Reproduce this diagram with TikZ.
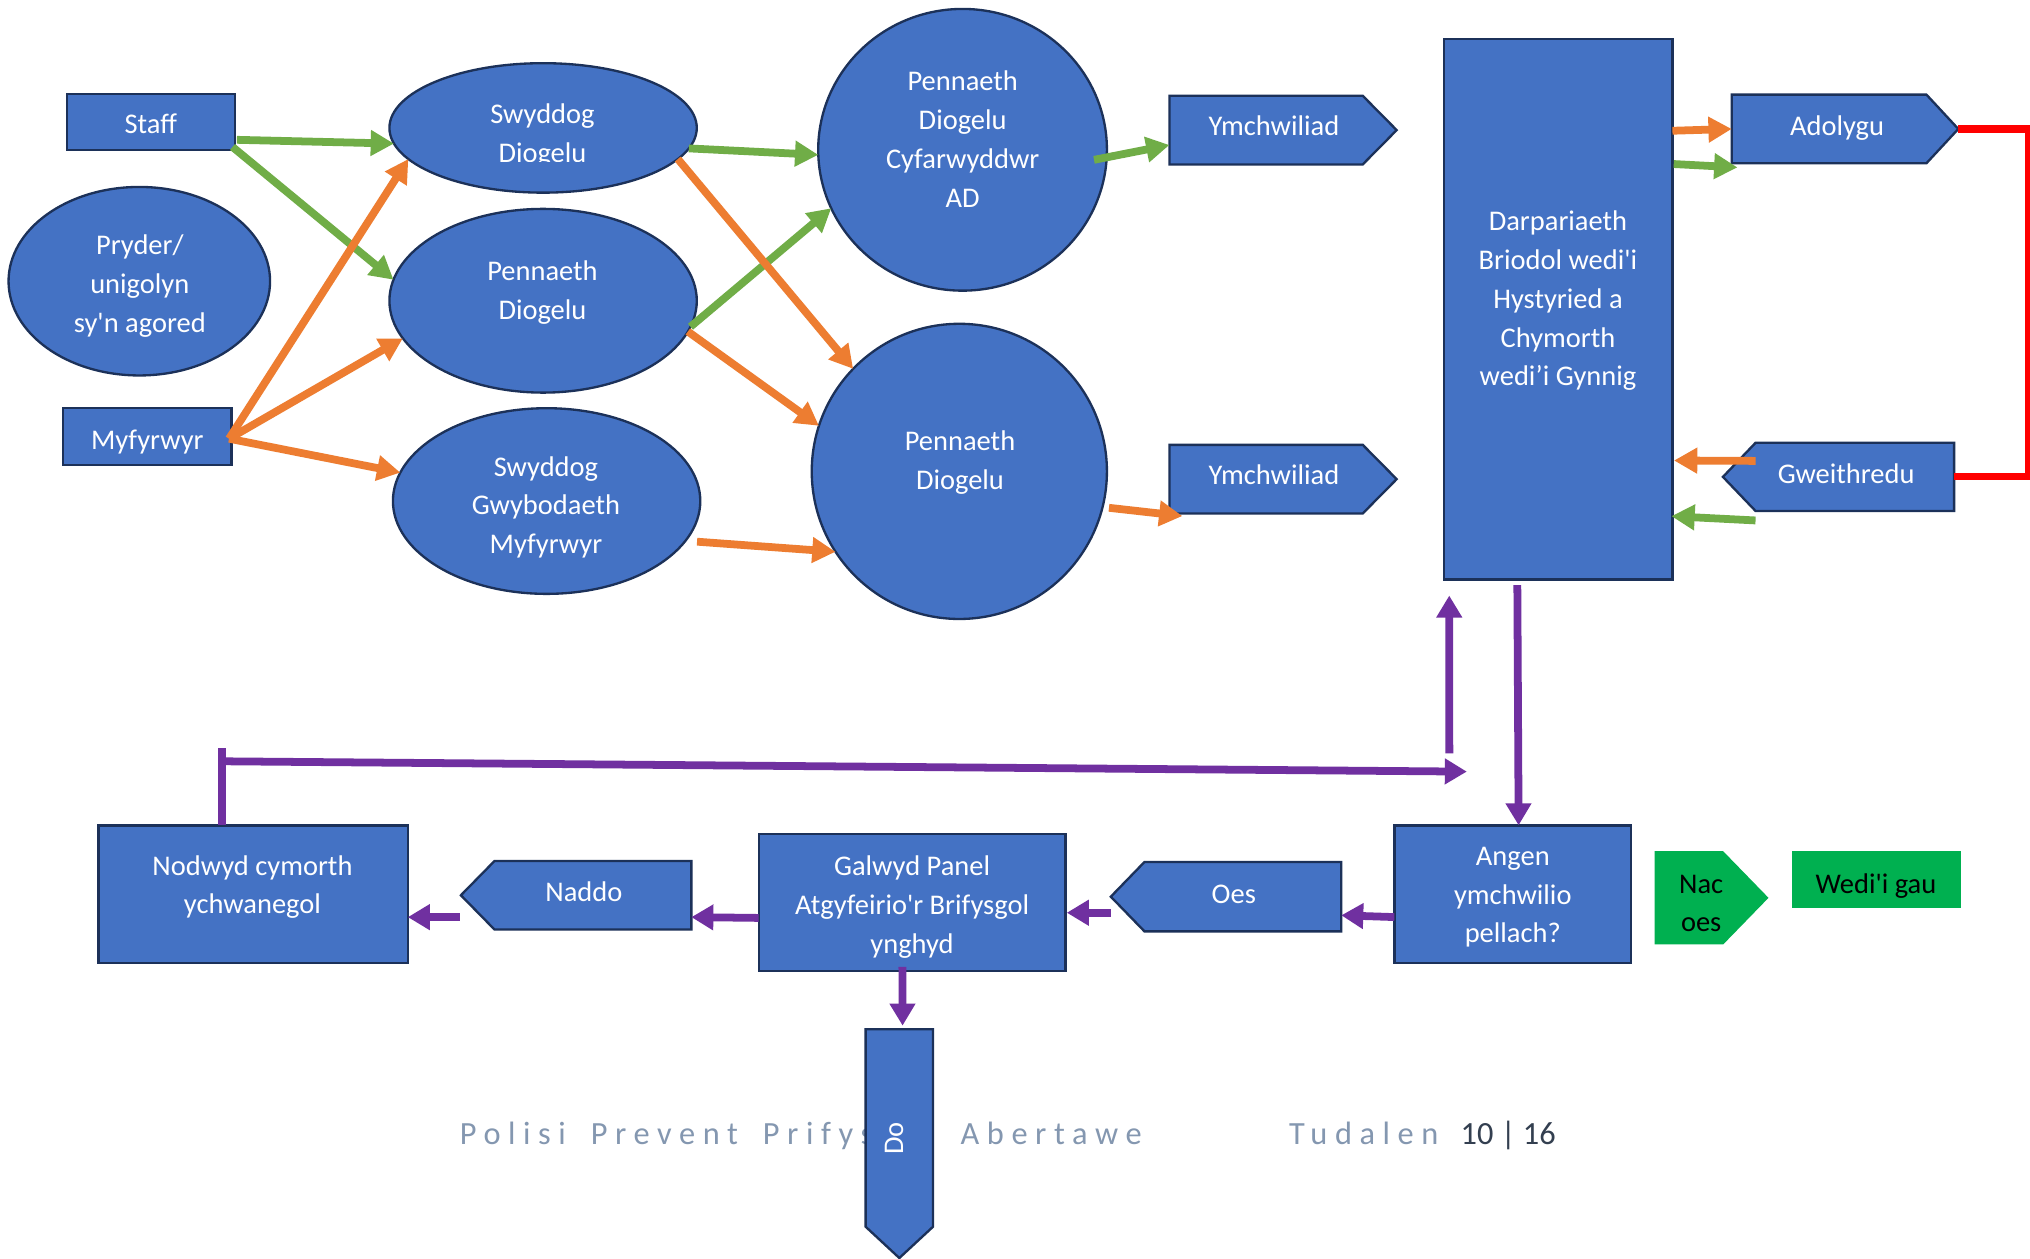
\documentclass[tikz,border=0pt]{standalone}
\usepackage{fontspec}
\setmainfont{Carlito}
\newfontfamily\footfam{Carlito}[LetterSpace=23.5]
\usetikzlibrary{shapes.geometric,arrows.meta}
\definecolor{ofblue}{HTML}{4472C4}
\definecolor{bordc}{HTML}{1C3159}
\definecolor{cgreen}{HTML}{70AD47}
\definecolor{corange}{HTML}{ED7D31}
\definecolor{cpurple}{HTML}{7030A0}
\definecolor{cred}{HTML}{FF0000}
\definecolor{boxgreen}{HTML}{00B050}
\definecolor{footblue}{HTML}{8497B0}
\definecolor{footdark}{HTML}{333F50}
\newcommand\mainfnt{\fontsize{22}{30}\selectfont}
\newcommand\sq{\textquotesingle}
\begin{document}
\begin{tikzpicture}[x=1pt,y=-1pt,
  blk/.style={draw=bordc, fill=ofblue, line width=1.8pt},
  shp/.style={inner sep=0pt, outer sep=0pt},
  rbox/.style={blk, shp, rectangle},
  ebox/.style={blk, shp, ellipse},
  ghost/.style={shp, rectangle},
  txt/.style={text=white, font=\mainfnt, align=center, inner sep=0pt,
    execute at begin node=\strut, execute at end node=\strut, yshift=-1.5pt},
  mtxt/.style={txt, yshift=-3pt},
  btxt/.style={mtxt, text=black},
  foottxt/.style={anchor=base west, inner sep=0pt},
  arr/.style={line width=6pt, -{Triangle[length=18pt,width=19pt]}},
  garr/.style={arr, draw=cgreen},
  oarr/.style={arr, draw=corange},
  parr/.style={line width=6pt, draw=cpurple, -{Triangle[length=17pt,width=19pt]}},
  pline/.style={line width=6pt, draw=cpurple},
  rline/.style={line width=5.5pt, draw=cred, line join=miter},
]
\useasboundingbox (0,0) rectangle (1568,971.7);
\fill[white] (0,0) rectangle (1568,971.7);

% ---------- top shapes ----------
\node[rbox, minimum width=130.1pt, minimum height=43.5pt] (staff) at (116.55,94.25) {};
\node[ebox, minimum width=202pt, minimum height=145.6pt] (pryder) at (107.6,217.2) {};
\node[rbox, minimum width=130.1pt, minimum height=44.1pt] (myf) at (113.85,337.35) {};
\node[ebox, minimum width=237.4pt, minimum height=100pt] (sd) at (419.5,98.8) {};
\node[ebox, minimum width=237.4pt, minimum height=141.9pt] (pd1) at (419.5,232.3) {};
\node[ebox, minimum width=237.4pt, minimum height=143.4pt] (sgm) at (422.2,387) {};
\node[ebox, minimum width=223pt, minimum height=217.6pt] (pdad) at (743.5,115.7) {};
\node[ebox, minimum width=228pt, minimum height=228pt] (pd2) at (741,364.1) {};

\node[ghost, minimum width=175.5pt, minimum height=53pt] (ym1) at (991.05,100.5) {};
\path[blk] (ym1.north west) -- ([xshift=-26.2pt]ym1.north east) -- (ym1.east)
  -- ([xshift=-26.2pt]ym1.south east) -- (ym1.south west) -- cycle;
\node[ghost, minimum width=175.5pt, minimum height=53pt] (ym2) at (991.05,370.1) {};
\path[blk] (ym2.north west) -- ([xshift=-26.2pt]ym2.north east) -- (ym2.east)
  -- ([xshift=-26.2pt]ym2.south east) -- (ym2.south west) -- cycle;

\node[rbox, minimum width=176.4pt, minimum height=417.7pt] (darp) at (1203.6,238.85) {};

\node[ghost, minimum width=175pt, minimum height=53pt] (adol) at (1425.1,99.6) {};
\path[blk] (adol.north west) -- ([xshift=-24.6pt]adol.north east) -- (adol.east)
  -- ([xshift=-24.6pt]adol.south east) -- (adol.south west) -- cycle;
\node[ghost, minimum width=178.6pt, minimum height=52.7pt] (gw) at (1420.1,368.35) {};
\path[blk] (gw.west) -- ([xshift=25.2pt]gw.north west) -- (gw.north east)
  -- (gw.south east) -- ([xshift=25.2pt]gw.south west) -- cycle;

% ---------- bottom shapes ----------
\node[rbox, minimum width=239pt, minimum height=106.5pt] (nod) at (195.5,690.75) {};
\node[ghost, minimum width=178pt, minimum height=53pt] (naddo) at (445,691.5) {};
\path[blk] (naddo.west) -- ([xshift=26pt]naddo.north west) -- (naddo.north east)
  -- (naddo.south east) -- ([xshift=26pt]naddo.south west) -- cycle;
\node[rbox, minimum width=237pt, minimum height=105.9pt] (galw) at (704.5,697.25) {};
\node[ghost, minimum width=178pt, minimum height=53.6pt] (oes) at (947,692.6) {};
\path[blk] (oes.west) -- ([xshift=26pt]oes.north west) -- (oes.north east)
  -- (oes.south east) -- ([xshift=26pt]oes.south west) -- cycle;
\node[rbox, minimum width=183pt, minimum height=106.5pt] (angen) at (1168.5,690.75) {};
\node[ghost, minimum width=88pt, minimum height=72pt] (nac) at (1322,693.5) {};
\fill[boxgreen] (nac.north west) -- ([xshift=-35pt]nac.north east) -- (nac.east)
  -- ([xshift=-35pt]nac.south east) -- (nac.south west) -- cycle;
\node[shp, rectangle, fill=boxgreen, minimum width=131pt, minimum height=44pt] (wedi) at (1449.5,679.5) {};

% ---------- footer (under the Do box) ----------
\node[foottxt, text=footblue, font=\footfam\fontsize{25}{30}\selectfont] (foot) at (355,883.7)
  {Polisi \hspace{7.7pt}Prevent \hspace{7.7pt}Prifysgol \hspace{7.7pt}Abertawe};
\node[foottxt, text=footblue, font=\footfam\fontsize{25}{30}\selectfont] (tud) at (995.5,883.7) {Tudalen};
\node[foottxt, text=footdark, font=\fontsize{25}{30}\selectfont] (pg) at (1128,883.7) {10 | 16};

\node[ghost, minimum width=52.1pt, minimum height=176.7pt] (do) at (694.65,883.35) {};
\path[blk] (do.north west) -- (do.north east) -- ([yshift=24.2pt]do.south east)
  -- (do.south) -- ([yshift=24.2pt]do.south west) -- cycle;

% ---------- green connectors ----------
\draw[garr] ([shift={(1.4,13.75)}]staff.east) -- (sd.186.5);
\draw[garr] ([shift={(-2,-2.5)}]staff.south east) -- (pd1.172.7);
\draw[garr] (sd.352.7) -- (pdad.182);
\draw[garr] (pd1.350.2) -- (pdad.204.4);
\draw[garr, shorten <=-10pt] (pdad.357.2) -- ([shift={(0,11.5)}]ym1.west);
\draw[garr] ([shift={(1,96.7)}]darp.north east) -- ([shift={(4.4,3.2)}]adol.south west);
\draw[garr] ([shift={(25.2,7.3)}]gw.south west) -- ([shift={(-0.8,-49)}]darp.south east);

% ---------- orange connectors ----------
\draw[oarr] ([shift={(-2,1.5)}]myf.east) -- (sd.193.3);
\draw[oarr] ([shift={(-2,1.5)}]myf.east) -- (pd1.195.1);
\draw[oarr] ([shift={(-2,1.5)}]myf.east) -- (sgm.169.8);
\draw[oarr] (sd.347) -- (pd2.136.5);
\draw[oarr] (pd1.348.8) -- (pd2.162.1);
\draw[oarr, shorten <=9pt] (sgm.344.7) -- (pd2.213);
\draw[oarr, shorten <=5pt] (pd2.346.5) -- ([shift={(10,2)}]ym2.south west);
\draw[oarr] ([shift={(0,71)}]darp.north east) -- (adol.west);
\draw[oarr] ([shift={(25.2,14)}]gw.north west) -- ([shift={(1.2,-92)}]darp.south east);

% ---------- red loop ----------
\draw[rline] (adol.east) -- ++(54,0) |- (gw.east);

% ---------- purple connectors ----------
\draw[parr] ([shift={(-31.6,4.3)}]darp.south) -- ([xshift=4.5pt]angen.north);
\coordinate (upS) at (1119.5,582);
\draw[parr] (upS) -- ([shift={(4,12.3)}]darp.south west);
\coordinate (brT) at (171.5,578);
\coordinate (brL) at (168.5,588);
\coordinate (brR) at (1133,596);
\draw[pline] (brT) -- ([xshift=-24pt]nod.north);
\draw[parr] (brL) -- (brR);
\draw[parr] ([shift={(0,17.6)}]angen.west) -- ([shift={(0,14.4)}]oes.east);
\draw[parr] ([shift={(0,12.4)}]oes.west) -- ([shift={(1,7.75)}]galw.east);
\draw[parr] ([shift={(0,11.75)}]galw.west) -- ([shift={(0,16.9)}]naddo.east);
\draw[parr] ([shift={(-1,16.9)}]naddo.west) -- ([shift={(0,17.65)}]nod.east);
\draw[parr] ([shift={(-7.5,-3.3)}]galw.south) -- ([shift={(2.5,-2.8)}]do.north);

% ---------- texts ----------
\node[txt] (staffT) at (116.5,96) {Staff};
\node[mtxt] (pryderT) at (108,218.8) {Pryder/\\unigolyn\\sy\sq n agored};
\node[txt] (myfT) at (113.8,339.5) {Myfyrwyr};
\begin{scope}
  \clip (290,40) rectangle (550,124.5);
  \node[mtxt] (sdT) at (419,102.8) {Swyddog\\Diogelu};
\end{scope}
\node[mtxt] (pd1T) at (419,224.3) {Pennaeth\\Diogelu};
\node[mtxt] (sgmT) at (421.7,390.1) {Swyddog\\Gwybodaeth\\Myfyrwyr};
\node[mtxt] (pdadT) at (743.6,107.6) {Pennaeth\\Diogelu\\Cyfarwyddwr\\AD};
\node[mtxt] (pd2T) at (741.5,355.5) {Pennaeth\\Diogelu};
\node[txt] (ym1T) at (984,97.1) {Ymchwiliad};
\node[txt] (ym2T) at (984,366.6) {Ymchwiliad};
\node[mtxt] (darpT) at (1203.4,230.5) {Darpariaeth\\Briodol wedi\sq i\\Hystyried a\\Chymorth\\wedi’i Gynnig};
\node[txt] (adolT) at (1419,97) {Adolygu};
\node[txt] (gwT) at (1426,365.7) {Gweithredu};
\node[mtxt] (nodT) at (195,683.3) {Nodwyd cymorth\\ychwanegol};
\node[txt] (naddoT) at (451,688.6) {Naddo};
\node[mtxt] (galwT) at (704.5,698.8) {Galwyd Panel\\Atgyfeirio\sq r Brifysgol\\ynghyd};
\node[txt] (oesT) at (953,690.5) {Oes};
\node[mtxt] (angenT) at (1168.5,691.2) {Angen\\ymchwilio\\pellach?};
\node[btxt] (nacT) at (1314,697.8) {Nac\\oes};
\node[btxt, yshift=1.5pt] (wediT) at (1449,681.4) {Wedi\sq i gau};
\node[txt, rotate=90] (doT) at (691.5,878) {Do};
\end{tikzpicture}
\end{document}
